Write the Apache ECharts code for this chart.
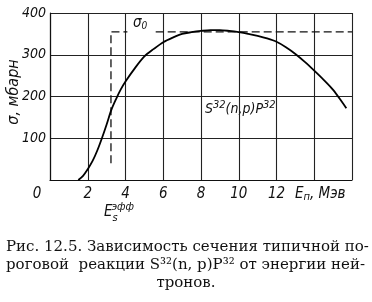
<!DOCTYPE html>
<html><head><meta charset="utf-8">
<script src="https://cdn.jsdelivr.net/npm/echarts@6/dist/echarts.min.js"></script>
<style>html,body{margin:0;padding:0;background:#fff}#c{width:372px;height:302px}</style>
</head><body><div id="c"></div>
<script>
// Data
var energyMeV = [1.5, 1.75, 2, 2.25, 2.5, 2.75, 3, 3.25, 3.5, 3.75, 4, 4.5, 5, 5.5, 6, 6.5, 7, 7.5, 8, 8.5, 9, 9.5, 10, 10.5, 11, 11.5, 12, 12.5, 13, 13.5, 14, 14.5, 15, 15.5, 15.7];
var sigmaMbarn = [0, 10, 26, 45, 70, 100, 133, 168, 194, 217, 236, 268, 296, 314, 330, 341, 350, 354, 357, 359, 359, 357, 354, 350, 345, 339, 331, 318, 302, 283, 262, 240, 216, 185, 172];
var thresholdEeff = 3.23;
var sigma0 = 355;
var xTicks = ['0', '2', '4', '6', '8', '10', '12'];
var yTicks = ['100', '200', '300', '400'];
var captionLines = [
  'Рис. 12.5. Зависимость сечения типичной по-',
  'роговой  реакции S³²(n, p)P³² от энергии ней-',
  'тронов.'
];

var curve = energyMeV.map(function (e, i) { return [e, sigmaMbarn[i]]; });
var dashA = [[thresholdEeff, 40], [thresholdEeff, sigma0], [4.1, sigma0]];
var dashB = [[5.6, sigma0], [16, sigma0]];

var IF = '"DejaVu Sans Condensed", "DejaVu Sans", sans-serif';
var lab = {fontFamily: 'DejaVu Sans Condensed, DejaVu Sans, sans-serif', fontStyle: 'italic', fontSize: 15, color: '#111'};
var chart = echarts.init(document.getElementById('c'), null, {renderer: 'canvas'});
chart.setOption({
  animation: false,
  backgroundColor: '#fff',
  grid: {left: 50, right: 20, top: 13, bottom: 122, show: false},
  xAxis: {
    type: 'value', min: 0, max: 16, interval: 2,
    axisLine: {show: true, lineStyle: {color: '#111', width: 1.2}},
    axisTick: {show: false},
    splitLine: {show: true, lineStyle: {color: '#222', width: 1.1}},
    axisLabel: Object.assign({}, lab, {
      margin: 7,
      formatter: function (v) {
        var s = String(v);
        if (xTicks.indexOf(s) < 0) return '';
        if (v === 0) return '{z|0}';
        return s;
      },
      rich: {z: Object.assign({}, lab, {padding: [0, 26, 0, 0]})}
    })
  },
  yAxis: {
    type: 'value', min: 0, max: 400, interval: 100,
    axisLine: {show: true, lineStyle: {color: '#111', width: 1.2}},
    axisTick: {show: false},
    splitLine: {show: true, lineStyle: {color: '#222', width: 1.1}},
    axisLabel: Object.assign({}, lab, {
      fontSize: 14,
      margin: 4,
      formatter: function (v) { var s = String(v); return yTicks.indexOf(s) >= 0 ? s : ''; }
    })
  },
  series: [
    {type: 'line', data: curve, smooth: 0.3, showSymbol: false, lineStyle: {color: '#000', width: 1.8}, z: 5},
    {type: 'line', data: dashA, showSymbol: false, lineStyle: {color: '#111', width: 1.3, type: [8, 4]}},
    {type: 'line', data: dashB, showSymbol: false, lineStyle: {color: '#111', width: 1.3, type: [8, 4]}}
  ],
  graphic: [
    {type: 'text', x: 22, y: 92, rotation: Math.PI / 2,
      style: {text: 'σ, мбарн', font: 'italic 16px ' + IF, fill: '#111', textAlign: 'center', textVerticalAlign: 'bottom'}},
    {type: 'text', x: 133, y: 15,
      style: {text: '{a|σ}{b|0}', rich: {a: {font: 'italic 15px ' + IF, fill: '#111'}, b: {font: 'italic 10px ' + IF, fill: '#111', padding: [6, 0, 0, 0]}}}},
    {type: 'text', x: 205, y: 100,
      style: {text: '{a|S}{s|32}{a|(n,p)P}{s|32}', rich: {a: {font: 'italic 14px ' + IF, fill: '#111'}, s: {font: 'italic 11px ' + IF, fill: '#111', padding: [0, 0, 8, 0]}}}},
    {type: 'text', x: 104, y: 201,
      style: {text: '{a|E}{s|s}{u|эфф}', rich: {a: {font: 'italic 15px ' + IF, fill: '#111'}, s: {font: 'italic 11px ' + IF, fill: '#111', padding: [12, 0, 0, 0]}, u: {font: 'italic 11px ' + IF, fill: '#111', padding: [0, 0, 10, -6]}}}},
    {type: 'text', x: 295, y: 186,
      style: {text: '{a|E}{s|п}{a|, Мэв}', rich: {a: {font: 'italic 15px ' + IF, fill: '#111'}, s: {font: 'italic 11px ' + IF, fill: '#111', padding: [6, 0, 0, 0]}}}},
    {type: 'text', x: 6, y: 240, style: {text: captionLines[0], font: '15px "DejaVu Serif", serif', fill: '#111'}},
    {type: 'text', x: 6, y: 258, style: {text: captionLines[1], font: '15px "DejaVu Serif", serif', fill: '#111'}},
    {type: 'text', x: 186, y: 276, style: {text: captionLines[2], font: '15px "DejaVu Serif", serif', fill: '#111', textAlign: 'center'}}
  ]
});
</script></body></html>
